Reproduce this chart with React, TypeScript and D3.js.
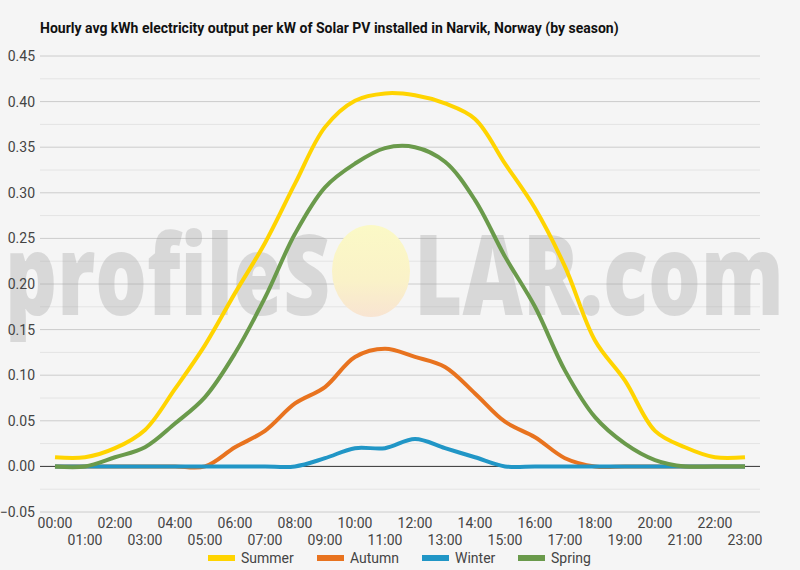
import { useMemo } from "react";
import * as d3 from "d3";

const hours = d3.range(24).map((h) => String(h).padStart(2, "0") + ":00");

const summer = [0.01, 0.01, 0.02, 0.04, 0.085, 0.133, 0.19, 0.245, 0.31, 0.372, 0.401, 0.409, 0.407, 0.398, 0.381, 0.332, 0.283, 0.219, 0.138, 0.094, 0.039, 0.021, 0.01, 0.01];
const autumn = [0, 0, 0, 0, 0, 0, 0.021, 0.039, 0.069, 0.087, 0.12, 0.129, 0.12, 0.109, 0.08, 0.049, 0.032, 0.009, 0, 0, 0, 0, 0, 0];
const winter = [0, 0, 0, 0, 0, 0, 0, 0, 0, 0.009, 0.02, 0.02, 0.03, 0.02, 0.01, 0, 0, 0, 0, 0, 0, 0, 0, 0];
const spring = [0, 0, 0.01, 0.021, 0.047, 0.076, 0.124, 0.185, 0.255, 0.306, 0.332, 0.349, 0.35, 0.334, 0.292, 0.23, 0.175, 0.105, 0.054, 0.025, 0.007, 0, 0, 0];

const seriesNames = ["Summer", "Autumn", "Winter", "Spring"];
const seriesColors = ["#FFD400", "#E8731F", "#2196C6", "#6A9A4B"];
const seriesValues = [summer, autumn, winter, spring];

const yTicks = [-0.05, 0, 0.05, 0.1, 0.15, 0.2, 0.25, 0.3, 0.35, 0.4, 0.45];

const W = 800;
const H = 570;

export default function App() {
  const x = useMemo(() => d3.scalePoint<string>().domain(hours).range([40, 760]).padding(0.5), []);
  const y = useMemo(() => d3.scaleLinear().domain([-0.05, 0.45]).range([512, 56]), []);

  const line = d3
    .line<number>()
    .x((_, i) => x(hours[i]) as number)
    .y((d) => y(d))
    .curve(d3.curveCatmullRom.alpha(0.5));

  const minor = d3.range(-0.025, 0.45, 0.05);
  const legendX = [208, 317, 422, 518];

  return (
    <svg width={W} height={H} style={{ position: "absolute", left: 0, top: 0 }} fontFamily="Roboto, sans-serif">
      <defs>
        <linearGradient id="sun" x1="0" y1="0" x2="0" y2="1">
          <stop offset="0%" stopColor="#fbf9c6" />
          <stop offset="60%" stopColor="#faf2c8" />
          <stop offset="100%" stopColor="#f8e4d2" />
        </linearGradient>
      </defs>
      <rect width={W} height={H} fill="#f5f5f5" />

      <text x={40} y={33} fontSize={14} fontWeight="bold" fill="#111">
        Hourly avg kWh electricity output per kW of Solar PV installed in Narvik, Norway (by season)
      </text>

      {/* grid */}
      {minor.map((v) => (
        <line key={"m" + v} x1={40} x2={760} y1={y(v)} y2={y(v)} stroke="#e4e4e4" />
      ))}
      {yTicks.map((v) => (
        <line key={"g" + v} x1={40} x2={760} y1={y(v)} y2={y(v)} stroke={v === 0 ? "#333" : "#cccccc"} />
      ))}

      {/* watermark */}
      <ellipse cx={371} cy={271} rx={39} ry={46} fill="url(#sun)" />
      <g fontFamily="'Open Sans', sans-serif" fontWeight={800} fontSize={112} fill="#999" opacity={0.3}>
        <text x={5} y={315} textLength={325} lengthAdjust="spacingAndGlyphs">profileS</text>
        <text x={414} y={315} textLength={370} lengthAdjust="spacingAndGlyphs">LAR.com</text>
      </g>

      {yTicks.map((v) => (
        <text key={"t" + v} x={35} y={y(v)} dy="0.35em" textAnchor="end" fontSize={14} fill="#444">
          {d3.format(".2f")(v)}
        </text>
      ))}

      {/* series */}
      {seriesValues.map((vals, i) => (
        <path key={seriesNames[i]} d={line(vals) || ""} fill="none" stroke={seriesColors[i]} strokeWidth={4} strokeLinejoin="round" />
      ))}

      {/* x labels */}
      {hours.map((h, i) => (
        <text key={h} x={x(h)} y={i % 2 === 0 ? 528 : 545} textAnchor="middle" fontSize={14} fill="#444">
          {h}
        </text>
      ))}

      {/* legend */}
      {seriesNames.map((n, i) => (
        <g key={n} transform={`translate(${legendX[i]},558)`}>
          <rect x={0} y={-3} width={27} height={6} fill={seriesColors[i]} />
          <text x={33} y={0} dy="0.35em" fontSize={14} fill="#444">
            {n}
          </text>
        </g>
      ))}
    </svg>
  );
}
